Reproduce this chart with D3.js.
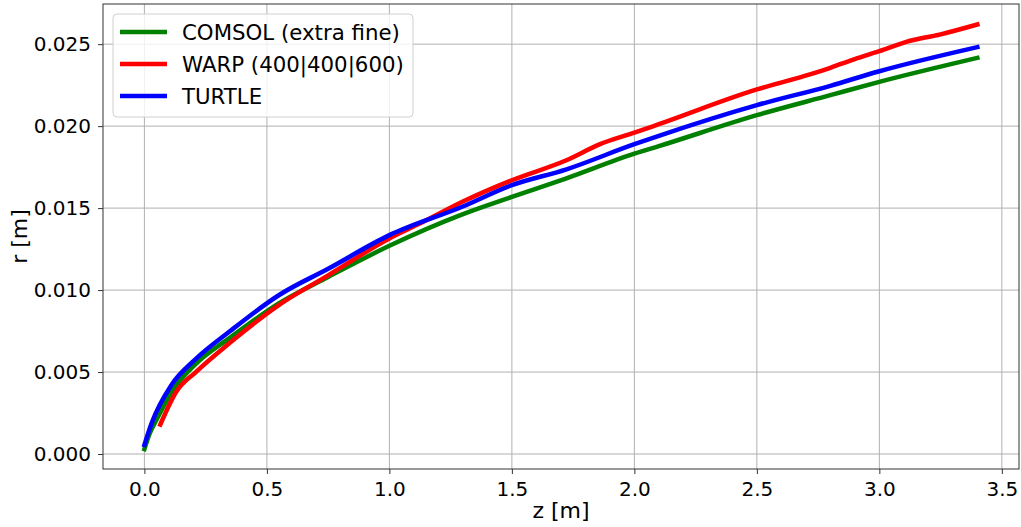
<!DOCTYPE html>
<html>
<head>
<meta charset="utf-8">
<script src="https://cdn.jsdelivr.net/npm/d3@7"></script>
<style>
  body { margin: 0; background: #fff; }
  svg { display: block; font-family: "DejaVu Sans", sans-serif; }
</style>
</head>
<body>
<div id="chart"></div>
<script>
const svgWidth = 1021;
const svgHeight = 527;
const margin = { top: 4, right: 2, bottom: 58, left: 103 };

// COMSOL (extra fine)
const comsolZ = [0, 0.02, 0.05, 0.116, 0.21, 0.35, 0.55, 0.75, 1.0, 1.29, 1.5, 1.72, 2.0, 2.1, 2.5, 2.8, 3.0, 3.4];
const comsolR = [0.0003, 0.0012, 0.0021, 0.0039, 0.0055, 0.0071, 0.0092, 0.0108, 0.0127, 0.01457, 0.01568, 0.0168, 0.01832, 0.01878, 0.02067, 0.02189, 0.0227, 0.02416];

// WARP (400|400|600)
const warpZ = [0.065, 0.13, 0.21, 0.35, 0.55, 0.75, 1.0, 1.13, 1.3, 1.5, 1.72, 1.86, 2.0, 2.1, 2.5, 2.72, 2.8, 2.9, 3.0, 3.11, 3.25, 3.4];
const warpR = [0.0018, 0.0038, 0.0050, 0.0068, 0.0091, 0.0109, 0.01315, 0.0141, 0.0154, 0.0167, 0.0179, 0.0189, 0.0196, 0.02012, 0.02224, 0.02317, 0.02356, 0.02409, 0.02457, 0.02514, 0.0256, 0.0262];

// TURTLE
const turtleZ = [0, 0.03, 0.11, 0.21, 0.35, 0.55, 0.75, 1.0, 1.3, 1.5, 1.72, 2.0, 2.1, 2.5, 2.8, 3.0, 3.4];
const turtleR = [0.00055, 0.0019, 0.0042, 0.0058, 0.0075, 0.0097, 0.0113, 0.01335, 0.0151, 0.0164, 0.01735, 0.0189, 0.01941, 0.02128, 0.02246, 0.02335, 0.02482];

const xTicks = [0, 0.5, 1, 1.5, 2, 2.5, 3, 3.5];
const yTicks = [0, 0.005, 0.01, 0.015, 0.02, 0.025];

const series = [
  { name: "COMSOL (extra fine)", color: "#008000", z: comsolZ, r: comsolR },
  { name: "WARP (400|400|600)", color: "#ff0000", z: warpZ, r: warpR },
  { name: "TURTLE", color: "#0000ff", z: turtleZ, r: turtleR }
];

const svg = d3.select("#chart")
  .append("svg")
  .attr("width", svgWidth)
  .attr("height", svgHeight);

const x = d3.scaleLinear()
  .domain([-0.169, 3.57])
  .range([margin.left, svgWidth - margin.right]);

const y = d3.scaleLinear()
  .domain([-0.000915, 0.02745])
  .range([svgHeight - margin.bottom, margin.top]);

const plotBottom = svgHeight - margin.bottom;
const plotRight = svgWidth - margin.right;

// Grid
svg.append("g")
  .selectAll("line")
  .data(xTicks)
  .join("line")
  .attr("x1", d => x(d)).attr("x2", d => x(d))
  .attr("y1", margin.top).attr("y2", plotBottom)
  .attr("stroke", "#b0b0b0")
  .attr("stroke-width", 1);

svg.append("g")
  .selectAll("line")
  .data(yTicks)
  .join("line")
  .attr("x1", margin.left).attr("x2", plotRight)
  .attr("y1", d => y(d)).attr("y2", d => y(d))
  .attr("stroke", "#b0b0b0")
  .attr("stroke-width", 1);

// Lines
const line = d3.line()
  .x(d => x(d[0]))
  .y(d => y(d[1]))
  .curve(d3.curveMonotoneX);

svg.append("defs").append("clipPath").attr("id", "clip")
  .append("rect")
  .attr("x", margin.left).attr("y", margin.top)
  .attr("width", plotRight - margin.left)
  .attr("height", plotBottom - margin.top);

series.forEach(s => {
  svg.append("path")
    .datum(s.z.map((z, i) => [z, s.r[i]]))
    .attr("clip-path", "url(#clip)")
    .attr("fill", "none")
    .attr("stroke", s.color)
    .attr("stroke-width", 4.5)
    .attr("stroke-linecap", "square")
    .attr("stroke-linejoin", "round")
    .attr("d", line);
});

// Frame
svg.append("rect")
  .attr("x", margin.left).attr("y", margin.top)
  .attr("width", plotRight - margin.left)
  .attr("height", plotBottom - margin.top)
  .attr("fill", "none")
  .attr("stroke", "#333")
  .attr("stroke-width", 1);

// Axes
const xAxis = svg.append("g")
  .attr("transform", `translate(0, ${plotBottom})`)
  .call(d3.axisBottom(x).tickValues(xTicks).tickFormat(d3.format(".1f")).tickSize(5).tickPadding(8));

const yAxis = svg.append("g")
  .attr("transform", `translate(${margin.left}, 0)`)
  .call(d3.axisLeft(y).tickValues(yTicks).tickFormat(d3.format(".3f")).tickSize(5).tickPadding(7));

[xAxis, yAxis].forEach(g => {
  g.select(".domain").remove();
  g.selectAll(".tick line").attr("stroke", "#333");
  g.selectAll(".tick text")
    .attr("fill", "#000")
    .style("font-size", "20px")
    .style("font-family", "DejaVu Sans, sans-serif");
});

// Axis labels
svg.append("text")
  .attr("x", (margin.left + plotRight) / 2)
  .attr("y", 518)
  .attr("text-anchor", "middle")
  .style("font-size", "22px")
  .text("z [m]");

svg.append("text")
  .attr("transform", `translate(27, ${(margin.top + plotBottom) / 2}) rotate(-90)`)
  .attr("text-anchor", "middle")
  .style("font-size", "22px")
  .text("r [m]");

// Legend
const legendGroup = svg.append("g").attr("transform", "translate(113, 14)");

legendGroup.append("rect")
  .attr("width", 300)
  .attr("height", 103)
  .attr("rx", 4)
  .attr("fill", "#fff")
  .attr("fill-opacity", 0.8)
  .attr("stroke", "#d0d0d0")
  .attr("stroke-width", 1);

series.forEach((s, i) => {
  const yy = 18 + i * 32;
  legendGroup.append("line")
    .attr("x1", 7).attr("x2", 54)
    .attr("y1", yy).attr("y2", yy)
    .attr("stroke", s.color)
    .attr("stroke-width", 4.5);
  legendGroup.append("text")
    .attr("x", 69)
    .attr("y", yy + 8)
    .style("font-size", "21.3px")
    .text(s.name);
});
</script>
</body>
</html>
